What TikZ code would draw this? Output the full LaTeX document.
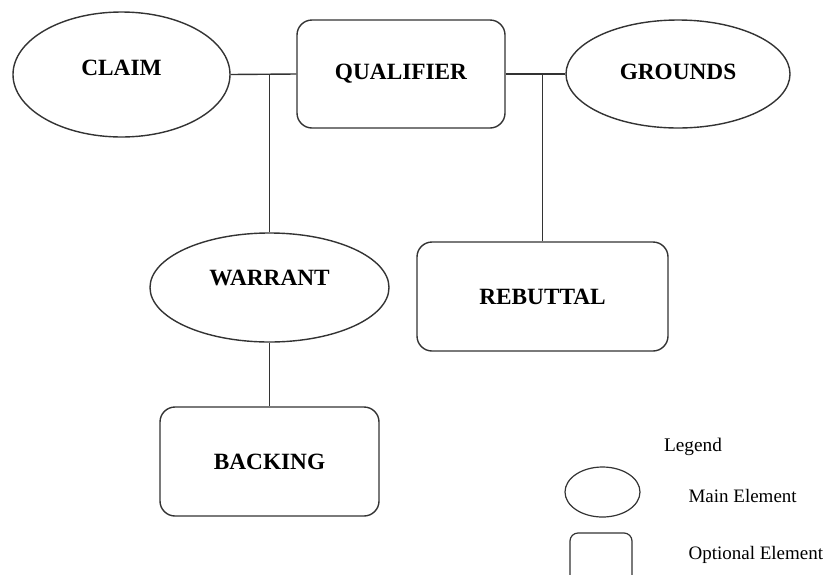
\documentclass[tikz,border=0pt]{standalone}
\usepackage{fontspec}
\setmainfont{Liberation Serif}
\usetikzlibrary{shapes.geometric}
\tikzset{
  main/.style={draw=black!80, line width=1.4pt, ellipse, inner sep=0pt},
  opt/.style={draw=black!80, line width=1.4pt, rectangle, rounded corners=15pt, inner sep=0pt,
    font=\fontsize{23.3}{25}\selectfont\bfseries},
  lbl/.style={font=\fontsize{23.3}{25}\selectfont\bfseries},
  conn/.style={draw=black!80, line width=1.4pt},
  legtext/.style={font=\fontsize{19}{21}\selectfont, anchor=west}
}
\begin{document}
\begin{tikzpicture}[x=1pt,y=-1pt]
\useasboundingbox (0,0) rectangle (825,574);
\clip (0,0) rectangle (825,574);
% main nodes
\node[main, minimum width=217pt, minimum height=125pt,
  label={[lbl,yshift=7pt]center:CLAIM}] (claim) at (121.5,74.5) {};
\node[opt, minimum width=208pt, minimum height=108pt] (qual) at (401,74) {QUALIFIER};
\node[main, minimum width=224pt, minimum height=108pt,
  label={[lbl,yshift=2pt]center:GROUNDS}] (grounds) at (678,74) {};
\node[main, minimum width=239pt, minimum height=109pt,
  label={[lbl,yshift=10pt]center:WARRANT}] (warrant) at (269.5,287.5) {};
\node[opt, minimum width=251pt, minimum height=109pt] (rebuttal) at (542.5,296.5) {REBUTTAL};
\node[opt, minimum width=219pt, minimum height=109pt] (backing) at (269.5,461.5) {BACKING};
% connectors
\draw[conn] (claim.east) -- (qual.west);
\draw[conn] (qual.east) -- (grounds.west);
\draw[conn] (warrant.north) -- (warrant.north |- claim.east);
\draw[conn] (rebuttal.north) -- (rebuttal.north |- qual.east);
\draw[conn] (warrant.south) -- (backing.north);
% legend
\node[font=\fontsize{19.3}{21}\selectfont] (legend) at (693,447) {Legend};
\node[main, line width=1.2pt, minimum width=75pt, minimum height=50pt] (legmain) at (602.5,492) {};
\node[draw=black!80, line width=1.2pt, rounded corners=8pt, minimum width=62pt, minimum height=50pt] (legopt) at (601,558) {};
\node[legtext] (legmaintxt) at (685,496) {Main Element};
\node[legtext] (legopttxt) at (685,555) {Optional Element};
\end{tikzpicture}
\end{document}
